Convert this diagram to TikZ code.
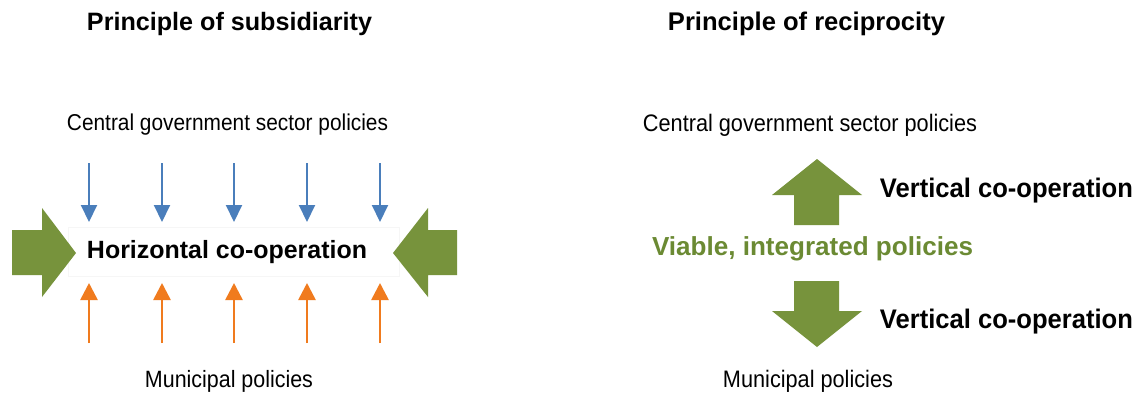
\documentclass[tikz,border=0pt]{standalone}
\usepackage{fontspec}
\setmainfont{Liberation Sans}
\usetikzlibrary{arrows.meta}
\definecolor{bluearr}{HTML}{4A7EBB}
\definecolor{orangearr}{HTML}{F07B1E}
\definecolor{greenarr}{HTML}{77933C}
\definecolor{greentext}{HTML}{6B8A33}
\newcommand{\fitw}[2]{\resizebox{#1pt}{!}{#2}}
\newcommand{\fitws}[2]{\scalebox{1}[1.1]{\resizebox{#1pt}{!}{#2}}}
\begin{document}
\begin{tikzpicture}[x=1pt,y=-1pt,
  txt/.style={inner sep=0pt,anchor=base},
  bluea/.style={draw=bluearr,line width=2pt,-{Triangle[width=16pt,length=17pt]}},
  orangea/.style={draw=orangearr,line width=2.6pt,-{Triangle[width=17pt,length=17pt]}},
  bigarrow/.style={fill=greenarr,draw=none}]
\useasboundingbox (0,0) rectangle (1138,392);
\fill[white] (0,0) rectangle (1138,392);

% titles
\node[txt] (t1) at (229.5,30) {\fitw{285}{\bfseries Principle of subsidiarity}};
\node[txt] (t2) at (806.5,30) {\fitw{277}{\bfseries Principle of reciprocity}};

% left panel
\node[txt] (cg1) at (227.5,130) {\fitws{321}{Central government sector policies}};
\node[txt] (mp1) at (229,387) {\fitws{168}{Municipal policies}};
\draw[gray!7,line width=0.8pt] (68,227) rectangle (399,276);
\node[txt] (hc) at (227,258) {\fitw{280}{\bfseries Horizontal co-operation}};

\foreach \i/\x in {1/89,2/162,3/234,4/307,5/380}{
  \coordinate (bt\i) at (\x,163);
  \coordinate (bh\i) at (\x,222);
  \coordinate (ot\i) at (\x,343);
  \coordinate (oh\i) at (\x,283);
  \draw[bluea] (bt\i) -- (bh\i);
  \draw[orangea] (ot\i) -- (oh\i);
}

\fill[bigarrow] (12,230) -- (42,230) -- (42,208) -- (76,253) -- (42,297) -- (42,275) -- (12,275) -- cycle;
\fill[bigarrow] (457,230) -- (428,230) -- (428,208) -- (393,253) -- (428,297) -- (428,275) -- (457,275) -- cycle;

% right panel
\node[txt] (cg2) at (810,131) {\fitws{334}{Central government sector policies}};
\node[txt] (mp2) at (808,387) {\fitws{170}{Municipal policies}};
\node[txt] (vc1) at (1006.5,197) {\scalebox{1}[1.05]{\fitw{253}{\bfseries Vertical co-operation}}};
\node[txt] (vc2) at (1006.5,328) {\scalebox{1}[1.05]{\fitw{253}{\bfseries Vertical co-operation}}};
\node[txt,text=greentext] (vip) at (812.5,255) {\fitw{321}{\bfseries Viable, integrated policies}};

\fill[bigarrow] (817,159) -- (862,195) -- (839,195) -- (839,225) -- (794,225) -- (794,195) -- (772,195) -- cycle;
\fill[bigarrow] (817,347) -- (862,311) -- (839,311) -- (839,281) -- (794,281) -- (794,311) -- (772,311) -- cycle;
\end{tikzpicture}
\end{document}
